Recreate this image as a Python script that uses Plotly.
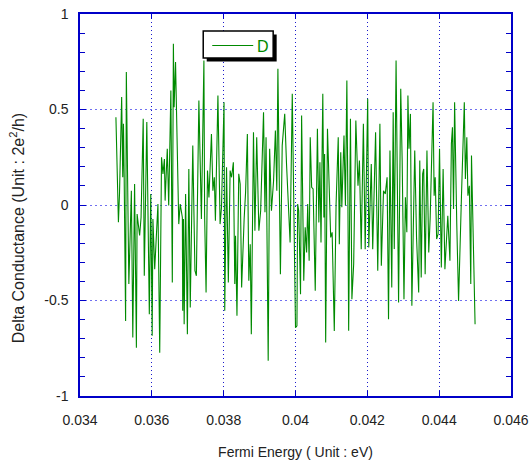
import plotly.graph_objects as go

# Fermi energy (eV) and delta conductance (2e^2/h)
energy = [
    0.03500, 0.03507, 0.03510, 0.03516, 0.03519, 0.03521, 0.03523, 0.03527, 0.03529, 0.03536,
    0.03543, 0.03547, 0.03552, 0.03557, 0.03559, 0.03566, 0.03570, 0.03576, 0.03579, 0.03586,
    0.03593, 0.03597, 0.03601, 0.03603, 0.03608, 0.03611, 0.03617, 0.03622, 0.03627, 0.03631,
    0.03635, 0.03637, 0.03643, 0.03647, 0.03653, 0.03657, 0.03660,
    0.03662, 0.03666, 0.03675, 0.03679, 0.03685, 0.03686, 0.03688, 0.03690, 0.03694, 0.03699,
    0.03703, 0.03707, 0.03714, 0.03720, 0.03724, 0.03727, 0.03731, 0.03738, 0.03745, 0.03747,
    0.03751, 0.03755, 0.03759, 0.03766, 0.03770, 0.03774, 0.03777, 0.03784, 0.03790, 0.03794,
    0.03801, 0.03803, 0.03808, 0.03813, 0.03818, 0.03822, 0.03827,
    0.03831, 0.03833, 0.03837, 0.03842, 0.03846, 0.03850, 0.03857, 0.03861, 0.03866, 0.03870,
    0.03874, 0.03877, 0.03883, 0.03887, 0.03892, 0.03898, 0.03903, 0.03911, 0.03915, 0.03918,
    0.03924, 0.03928, 0.03933, 0.03939, 0.03944, 0.03948, 0.03951, 0.03958, 0.03963, 0.03970,
    0.03975, 0.03985, 0.03991, 0.03996,
    0.04000, 0.04004, 0.04006, 0.04009, 0.04014, 0.04017, 0.04023, 0.04027, 0.04031, 0.04034,
    0.04038, 0.04041, 0.04045, 0.04049, 0.04055, 0.04061, 0.04065, 0.04068, 0.04071, 0.04076,
    0.04079, 0.04081, 0.04084, 0.04089, 0.04093, 0.04098, 0.04102, 0.04108, 0.04113, 0.04119,
    0.04122, 0.04126, 0.04129, 0.04135, 0.04139, 0.04143, 0.04146, 0.04148, 0.04153, 0.04157,
    0.04162,
    0.04168, 0.04174, 0.04178, 0.04183, 0.04189, 0.04194, 0.04201, 0.04204, 0.04211, 0.04215,
    0.04223, 0.04229, 0.04235, 0.04239, 0.04245, 0.04250, 0.04255, 0.04259, 0.04263, 0.04268,
    0.04272, 0.04275, 0.04280, 0.04287, 0.04293, 0.04297, 0.04302, 0.04306, 0.04310, 0.04313,
    0.04316, 0.04320, 0.04324,
    0.04332, 0.04337, 0.04343, 0.04346, 0.04350, 0.04354, 0.04357, 0.04361, 0.04366, 0.04371,
    0.04375, 0.04383, 0.04386, 0.04389, 0.04393, 0.04397, 0.04401, 0.04406, 0.04411, 0.04416,
    0.04424, 0.04430, 0.04434, 0.04437, 0.04440, 0.04443, 0.04449, 0.04454, 0.04462, 0.04470,
    0.04473, 0.04477, 0.04480, 0.04484, 0.04488, 0.04490, 0.04500,
]
delta_g = [
    0.46, -0.09, 0.06, 0.565, 0.145, 0.425, 0.145, -0.607, 0.696, -0.414,
    0.075, -0.694, 0.11, -0.747, -0.047, -0.16, -0.065, 0.451, -0.371, 0.434,
    -0.572, 0.058, -0.685, -0.073, -0.336, -0.231, 0.005, -0.773, 0.25, 0.163,
    0.241, 0.023, 0.294, -0.003, 0.60, -0.406, 0.844,
    0.512, 0.748, -0.10, 0.005, -0.065, -0.554, -0.073, -0.624, 0.058, -0.677,
    0.189, -0.537, 0.311, -0.344, -0.371, 0.04, 0.547, -0.073, 0.757, -0.056,
    -0.458, 0.18, 0.04, 0.372, 0.075, 0.145, -0.082, 0.573, -0.10, -0.012,
    0.538, -0.554, 0.198, -0.406, 0.18, 0.145, 0.224,
    -0.414, -0.161, -0.58, 0.163, 0.11, -0.432, -0.073, 0.066, 0.372, -0.397,
    -0.205, -0.677, 0.381, -0.135, 0.355, -0.135, -0.03, 0.486, -0.038, 0.355,
    -0.816, 0.294, -0.03, 0.128, 0.39, 0.075, 0.713, -0.362, 0.311, 0.477,
    0.215, -0.196, 0.582, 0.005,
    -0.642, -0.633, 0.005, -0.03, -0.467, 0.469, -0.397, -0.117, -0.248, 0.005,
    -0.292, 0.355, 0.093, 0.084, -0.449, 0.399, -0.091, 0.224, -0.196, 0.582,
    -0.065, 0.267, -0.72, 0.399, 0.075, -0.17, -0.143, -0.659, 0.005, 0.355,
    -0.205, 0.276, -0.012, 0.364, -0.003, 0.652, -0.012, -0.659, 0.451, -0.493,
    -0.309,
    0.442, 0.101, 0.233, -0.231, 0.425, -0.231, 0.556, -0.222, 0.215, -0.231,
    0.381, -0.344, 0.425, -0.318, 0.075, 0.058, 0.145, -0.598, 0.285, -0.432,
    0.486, -0.231, 0.757, -0.51, 0.608, 0.233, -0.493, 0.04, -0.143, 0.573,
    0.294, 0.477, -0.528,
    0.285, -0.17, -0.458, 0.233, -0.379, 0.163, 0.189, -0.362, 0.285, -0.248,
    -0.065, 0.538, 0.049, 0.145, -0.178, -0.152, 0.294, -0.327, 0.189, -0.336,
    -0.056, -0.292, 0.32, 0.407, -0.021, 0.538, -0.10, -0.502, 0.04, 0.538,
    0.136, 0.355, 0.049, 0.101, -0.414, 0.259, -0.624,
]
series_name = "D"
x_ticks = [0.034, 0.036, 0.038, 0.040, 0.042, 0.044, 0.046]
x_tick_text = ["0.034", "0.036", "0.038", "0.04", "0.042", "0.044", "0.046"]
y_ticks = [-1, -0.5, 0, 0.5, 1]
y_tick_text = ["-1", "-0.5", "0", "0.5", "1"]

AXIS = "#0000c8"
FONT = "Liberation Sans, Arial, sans-serif"
GREEN = "#008a00"

fig = go.Figure()
fig.add_trace(go.Scatter(
    x=energy, y=delta_g, mode="lines", name=series_name,
    line=dict(color=GREEN, width=1.1), showlegend=False,
))

fig.update_layout(
    width=530, height=465,
    margin=dict(l=80, r=19, t=14, b=69, autoexpand=False),
    paper_bgcolor="white", plot_bgcolor="white",
    font=dict(family=FONT, size=14, color="#222222"),
    showlegend=False,
    xaxis=dict(
        range=[0.034, 0.046], tickmode="array", tickvals=x_ticks, ticktext=x_tick_text,
        showline=True, linecolor=AXIS, linewidth=1.5, mirror="ticks",
        ticks="inside", ticklen=5, tickcolor=AXIS,
        showgrid=True, gridcolor="#1a1acc", griddash="1px,3px", gridwidth=1,
        zeroline=False, ticklabelstandoff=10, automargin=False,
        ticklabeloverflow="allow",
        title=dict(text="Fermi Energy ( Unit : eV)", standoff=21,
                   font=dict(family=FONT, size=14, color="#222222")),
    ),
    yaxis=dict(
        range=[-1, 1], tickmode="array", tickvals=y_ticks, ticktext=y_tick_text,
        showline=True, linecolor=AXIS, linewidth=1.5, mirror="ticks",
        ticks="inside", ticklen=6, tickcolor=AXIS,
        minor=dict(dtick=0.1, tick0=0, ticks="inside", ticklen=5, tickcolor=AXIS, showgrid=False),
        showgrid=True, gridcolor="#7070f0", griddash="2px,3px", gridwidth=1,
        zeroline=False, ticklabelstandoff=7, automargin=False,
        ticklabeloverflow="allow",
    ),
)

# y axis title (placed lower than center, as in the original)
fig.add_annotation(
    text="Delta Conductance (Unit : 2e<sup>2</sup>/h)",
    xref="paper", yref="paper", x=-0.1454, y=0.44,
    textangle=-90, showarrow=False, xanchor="center", yanchor="middle",
    font=dict(family=FONT, size=16, color="#222222"),
)

# legend box with drop shadow, sample line and label
fig.add_shape(type="rect", xref="paper", yref="paper",
              x0=0.2940, x1=0.4563, y0=0.8757, y1=0.9463,
              fillcolor="black", line=dict(width=0), layer="above")
fig.add_shape(type="rect", xref="paper", yref="paper",
              x0=0.2859, x1=0.4482, y0=0.8848, y1=0.9555,
              fillcolor="white", line=dict(color="black", width=1.5), layer="above")
fig.add_shape(type="line", xref="paper", yref="paper",
              x0=0.3068, x1=0.4019, y0=0.9175, y1=0.9175,
              line=dict(color=GREEN, width=1.1), layer="above")
fig.add_annotation(text=series_name, xref="paper", yref="paper",
                   x=0.4238, y=0.9149, showarrow=False,
                   xanchor="center", yanchor="middle",
                   font=dict(family=FONT, size=16, color=GREEN))

fig.write_html(
    "out.html",
    config={"displayModeBar": False},
    post_script="document.body.style.margin='0';"
                "document.documentElement.style.overflow='hidden';"
                "document.body.style.overflow='hidden';",
)
